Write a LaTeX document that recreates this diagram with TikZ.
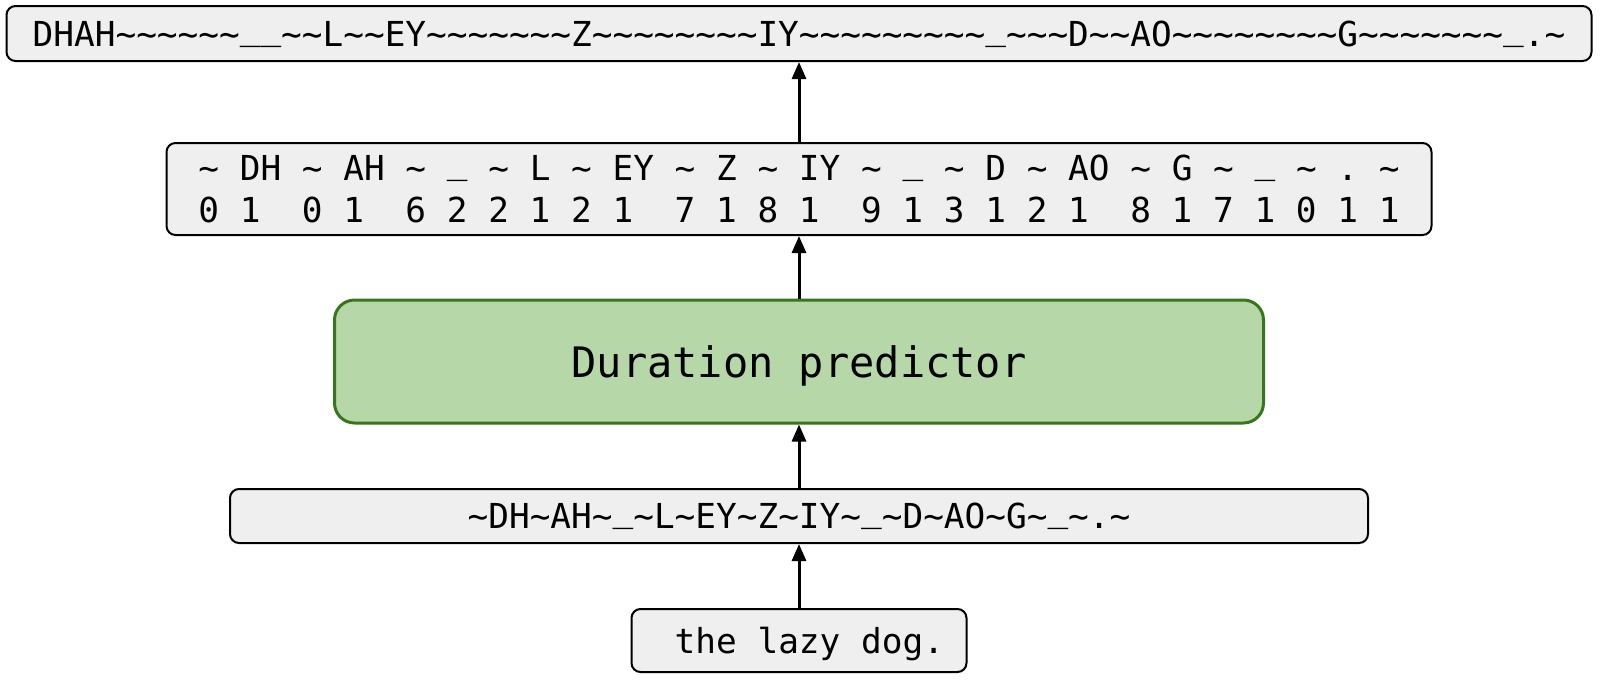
\documentclass[tikz,border=0pt]{standalone}
\usepackage{fontspec}
\setmonofont{DejaVu Sans Mono}
\usetikzlibrary{arrows.meta}
\definecolor{boxgray}{HTML}{EFEFEF}
\definecolor{predfill}{HTML}{B6D7A8}
\definecolor{preddraw}{HTML}{38761D}
\newcommand\usc{\raisebox{.2em}{\string_}}
\begin{document}
\begin{tikzpicture}[x=0.5pt,y=-0.5pt,
  seqbox/.style={draw=black, line width=1pt, fill=boxgray, rounded corners=4.5pt, inner sep=0pt, align=center, text depth=0pt, font=\ttfamily\fontsize{17.2pt}{21pt}\selectfont},
  predbox/.style={draw=preddraw, line width=1.5pt, fill=predfill, rounded corners=10pt, inner sep=0pt, text depth=0pt, font=\ttfamily\fontsize{21pt}{24pt}\selectfont},
  flow/.style={-{Triangle[length=8.5pt,width=7pt]}, line width=1.5pt}]
\useasboundingbox (0,0) rectangle (1601,681);
% boxes, bottom to top
\node[seqbox, minimum width=167.5pt, minimum height=31.5pt] (txt) at (799,640.5) {\ the lazy dog.};
\node[seqbox, minimum width=569pt, minimum height=27pt] (phon) at (799,516) {\detokenize{~DH~AH~}\usc\detokenize{~L~EY~Z~IY~}\usc\detokenize{~D~AO~G~}\usc\detokenize{~.~}};
\node[predbox, minimum width=464.5pt, minimum height=61.5pt] (pred) at (799,361.5) {Duration predictor};
\node[seqbox, minimum width=632.5pt, minimum height=46pt] (durs) at (799,189) {\detokenize{~ DH ~ AH ~ }\usc\detokenize{ ~ L ~ EY ~ Z ~ IY ~ }\usc\detokenize{ ~ D ~ AO ~ G ~ }\usc\detokenize{ ~ . ~}\\0 1\ \ 0 1\ \ 6 2 2 1 2 1\ \ 7 1 8 1\ \ 9 1 3 1 2 1\ \ 8 1 7 1 0 1 1};
\node[seqbox, minimum width=792.5pt, minimum height=27.5pt] (frames) at (799,33.5) {\detokenize{DHAH~~~~~~}\usc\usc\detokenize{~~L~~EY~~~~~~~Z~~~~~~~~IY~~~~~~~~~}\usc\detokenize{~~~D~~AO~~~~~~~~G~~~~~~~}\usc\detokenize{.~}};
% arrows
\draw[flow] (txt.north) -- (phon.south);
\draw[flow] (phon.north) -- (pred.south);
\draw[flow] (pred.north) -- (durs.south);
\draw[flow] (durs.north) -- (frames.south);
\end{tikzpicture}
\end{document}
